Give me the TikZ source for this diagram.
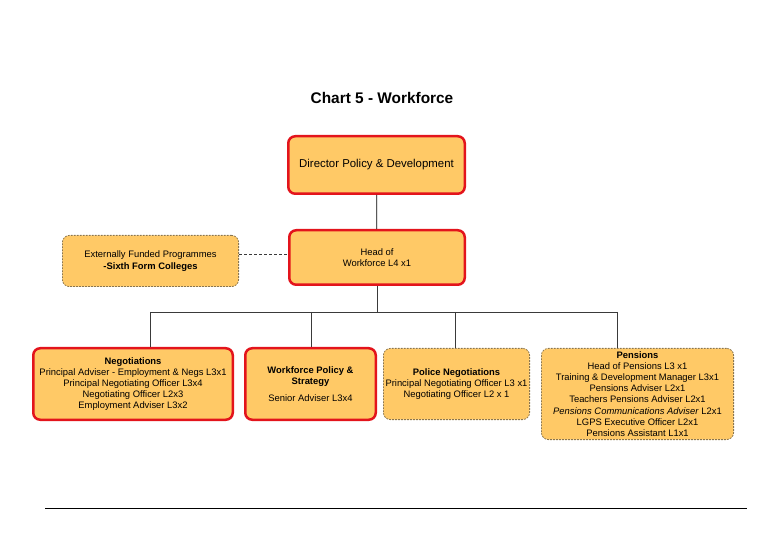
\documentclass[tikz,border=0pt]{standalone}
\usepackage{fontspec}
\setmainfont{Liberation Sans}
\definecolor{boxfill}{HTML}{FFC966}
\definecolor{boxred}{HTML}{E3141C}
\definecolor{dashbrd}{HTML}{8A7650}
\definecolor{connc}{HTML}{3A3A3A}
\begin{document}
\begin{tikzpicture}[x=1pt,y=-1pt,
  solidbox/.style={draw=boxred, line width=2.5pt, fill=boxfill, rounded corners=7pt,
    inner sep=0pt, align=center, font=\fontsize{9.4}{11.2}\selectfont},
  dashbox/.style={draw=dashbrd, line width=0.8pt, dash pattern=on 1.8pt off 1.2pt,
    fill=boxfill, rounded corners=7pt, inner sep=0pt, align=center,
    font=\fontsize{9.4}{11.2}\selectfont},
  connline/.style={draw=connc, line width=0.8pt}]
\useasboundingbox (0,0) rectangle (780,540);

\node[font=\bfseries\fontsize{15.4}{18}\selectfont] (title) at (382,98) {Chart 5 - Workforce};

\node[solidbox, minimum width=176.5pt, minimum height=57.5pt,
  font=\fontsize{11.4}{13}\selectfont] (dir) at (376.5,165) {Director Policy \& Development};
\node[solidbox, minimum width=175.5pt, minimum height=54.5pt] (head) at (377,257.5)
  {Head of\\Workforce L4 x1};
\node[dashbox, minimum width=176.2pt, minimum height=51.2pt] (ext) at (150.5,261)
  {Externally Funded Programmes\\\textbf{-Sixth Form Colleges}};

\node[solidbox, minimum width=199.5pt, minimum height=71.5pt] (neg) at (133,384)
  {\textbf{Negotiations}\\Principal Adviser - Employment \& Negs L3x1\\Principal Negotiating Officer L3x4\\Negotiating Officer L2x3\\Employment Adviser L3x2};
\node[solidbox, minimum width=130.5pt, minimum height=71.5pt] (wps) at (310.5,384)
  {\textbf{Workforce Policy \&}\\\textbf{Strategy}\\[6pt]Senior Adviser L3x4};
\node[dashbox, minimum width=146.2pt, minimum height=71.2pt] (pol) at (456.5,384)
  {\textbf{Police Negotiations}\\Principal Negotiating Officer L3 x1\\Negotiating Officer L2 x 1};
\node[dashbox, minimum width=192.2pt, minimum height=91.2pt] (pen) at (637.5,394)
  {\textbf{Pensions}\\Head of Pensions L3 x1\\Training \& Development Manager L3x1\\Pensions Adviser L2x1\\Teachers Pensions Adviser L2x1\\\textit{Pensions Communications Adviser} L2x1\\LGPS Executive Officer L2x1\\Pensions Assistant L1x1};

% connectors
\draw[connline, draw=black] (dir) -- (head);
\coordinate (bar) at (377,312);
\coordinate (b1) at (150,312);
\coordinate (b2) at (311,312);
\coordinate (b3) at (455,312);
\coordinate (b4) at (617,312);
\draw[connline] (head.south) -- (bar);
\draw[connline] (b1) -- (b4);
\draw[connline] (b1) -- (b1 |- neg.north);
\draw[connline] (b2) -- (b2 |- wps.north);
\draw[connline] (b3) -- (b3 |- pol.north);
\draw[connline] (b4) -- (b4 |- pen.north);

\coordinate (dl) at (260,254);
\draw[connline, dash pattern=on 3pt off 2pt] (ext.east |- dl) -- (head.west |- dl);

% bottom rule
\coordinate (r1) at (45,508);
\coordinate (r2) at (747,508);
\draw[line width=1pt] (r1) -- (r2);
\end{tikzpicture}
\end{document}
